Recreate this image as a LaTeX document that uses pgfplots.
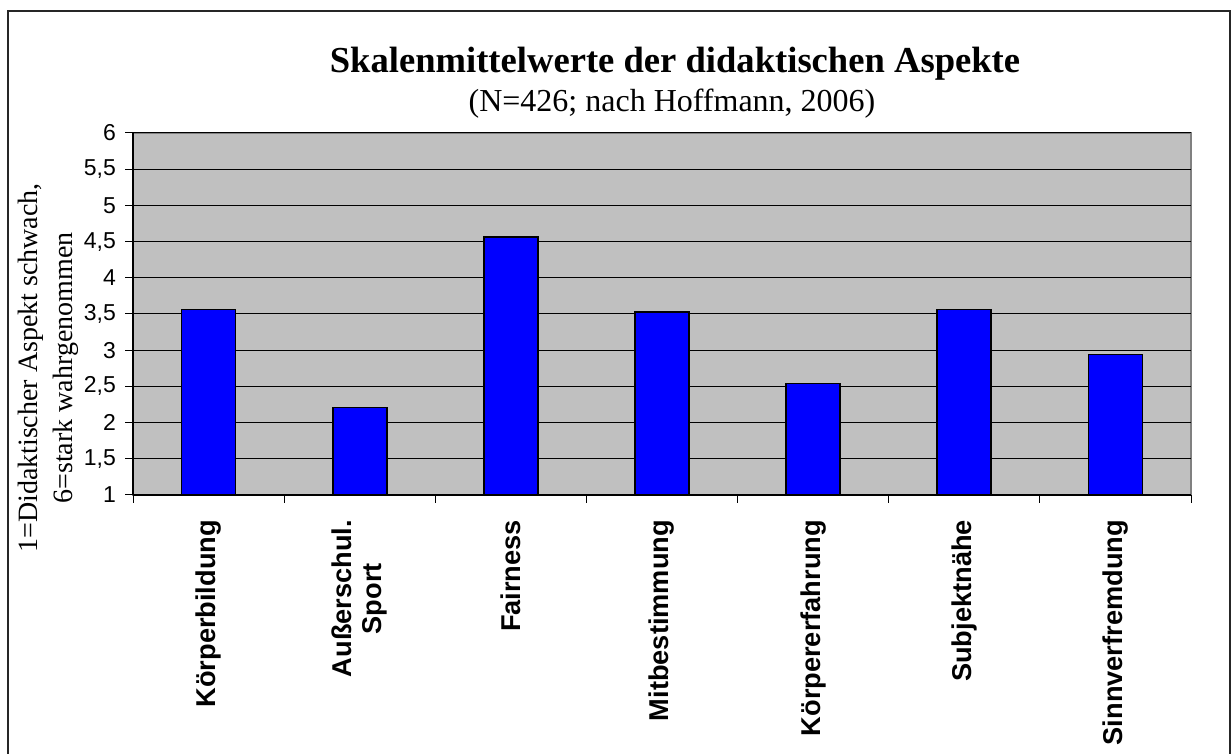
\documentclass[border=0pt]{standalone}
\usepackage{fontspec}
\setmainfont{Liberation Sans}
\newfontfamily\serif{Liberation Serif}
\usepackage{pgfplots}
\pgfplotsset{compat=1.18}
\definecolor{plotbg}{HTML}{C0C0C0}
\definecolor{barblue}{HTML}{0000FF}
\definecolor{bordergray}{HTML}{808080}
\begin{document}
\begin{tikzpicture}
\useasboundingbox (0,0) rectangle (616pt,377pt);
\draw[line width=1pt, black!85] (3.75pt,0) -- (3.75pt,371.5pt) -- (615pt,371.5pt) -- (615pt,0);
\node[font=\serif\bfseries\fontsize{18.3}{22}\selectfont] at (337.5pt,345pt) {Skalenmittelwerte der didaktischen Aspekte};
\node[font=\serif\fontsize{16}{19}\selectfont] at (336pt,325pt) {(N=426; nach Hoffmann, 2006)};
\begin{axis}[
  at={(66.5pt,129.5pt)}, anchor=south west,
  scale only axis, width=529pt, height=181pt,
  xmin=-0.5, xmax=6.5, ymin=1, ymax=6,
  ytick={1,1.5,...,6},
  xtick={0,...,6},
  xticklabels={Körperbildung,{Außerschul.\\Sport},Fairness,Mitbestimmung,Körpererfahrung,Subjektnähe,Sinnverfremdung},
  minor xtick={-0.5,0.5,...,6.5},
  axis lines=left, axis line style={-, black, line width=0.6pt},
  axis background/.style={fill=plotbg, draw=bordergray, line width=0.8pt},
  ymajorgrids, major grid style={black, line width=0.5pt},
  tick align=outside,
  major tick length=4pt, minor tick length=4pt,
  xtick style={draw=none},
  minor x tick style={draw=black, line width=0.5pt},
  ytick style={black, line width=0.5pt},
  /pgf/number format/.cd, use comma, assume math mode=true, fixed,
  /pgfplots/.cd,
  yticklabel style={font=\fontsize{11.5}{13}\selectfont, xshift=-1pt},
  xticklabel style={font=\bfseries\fontsize{13.6}{15}\selectfont, rotate=90, anchor=east, align=center},
  xticklabel shift=5pt,
  ybar, bar width=27pt,
  clip=true,
]
\addplot[fill=barblue, draw=black, line width=0.8pt] coordinates {
  (0,3.56) (1,2.21) (2,4.56) (3,3.53) (4,2.54) (5,3.56) (6,2.94)
};
\end{axis}
\node[rotate=90, font=\serif\fontsize{14}{17.5}\selectfont, align=center] at (24pt,193pt) {1=Didaktischer Aspekt schwach,\\6=stark wahrgenommen};
\end{tikzpicture}
\end{document}
